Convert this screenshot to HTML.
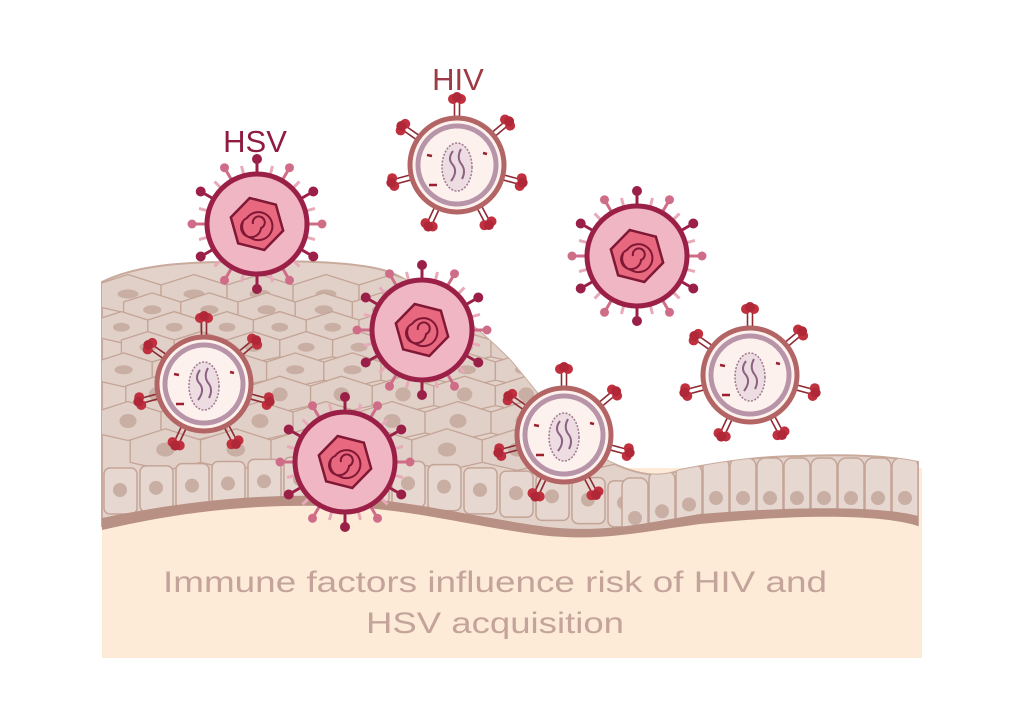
<!DOCTYPE html>
<html><head><meta charset="utf-8"><style>
html,body{margin:0;padding:0;background:#fff;width:1024px;height:717px;overflow:hidden}
svg{display:block}
</style></head><body>
<svg id="s" width="1024" height="717" viewBox="0 0 1024 717" xmlns="http://www.w3.org/2000/svg">
<defs>
<clipPath id="tis"><path d="M102,282 C130,268 170,262 230,262 C300,260 360,262 390,272 C430,290 470,320 510,360 C540,395 570,440 610,462 C640,476 660,478 680,470 C720,462 760,456 800,456 C850,454 890,456 918,462 L918,525 C880,512 800,512 700,522 C640,530 600,540 540,532 C470,522 410,505 330,502 C250,500 180,510 102,526 Z"/></clipPath>
</defs>
<rect x="102" y="468" width="820" height="190" fill="#fdebd8"/>
<path d="M102,282 C130,268 170,262 230,262 C300,260 360,262 390,272 C430,290 470,320 510,360 C540,395 570,440 610,462 C640,476 660,478 680,470 C720,462 760,456 800,456 C850,454 890,456 918,462 L918,525 C880,512 800,512 700,522 C640,530 600,540 540,532 C470,522 410,505 330,502 C250,500 180,510 102,526 Z" fill="#e2d2ca" stroke="#c9aa9c" stroke-width="2"/>
<g id="cells" clip-path="url(#tis)"></g>
<path d="M102,518 C180,502 250,494 330,496 C410,500 470,516 540,526 C600,534 640,524 700,514 C800,506 880,506 918,516 L918,526 C880,514 800,514 700,524 C640,532 600,542 540,535 C470,526 410,508 330,506 C250,504 180,512 102,530 Z" fill="#b89084"/>
<g id="vir"></g>
<text x="255" y="152" font-family="Liberation Sans, sans-serif" font-size="31" fill="#8f1c40" text-anchor="middle">HSV</text>
<text x="458" y="90" font-family="Liberation Sans, sans-serif" font-size="31" fill="#9e3a44" text-anchor="middle">HIV</text>
<text x="495" y="592" font-family="Liberation Sans, sans-serif" font-size="30" fill="#c4a49a" text-anchor="middle" textLength="664" lengthAdjust="spacingAndGlyphs">Immune factors influence risk of HIV and</text>
<text x="495" y="633" font-family="Liberation Sans, sans-serif" font-size="30" fill="#c4a49a" text-anchor="middle" textLength="258" lengthAdjust="spacingAndGlyphs">HSV acquisition</text>
</svg>
<script>
var NS="http://www.w3.org/2000/svg";
function el(p,t,a){var e=document.createElementNS(NS,t);for(var k in a)e.setAttribute(k,a[k]);p.appendChild(e);return e;}
var C=document.getElementById('cells'),V=document.getElementById('vir');
var rows=[[285,30],[302,26],[320,24],[340,24],[362,26],[386,28],[412,30],[440,32]];
rows.forEach(function(r,i){var y=r[0],w=r[1]*2.2;for(var x=95+(i%2)*w/2;x<600;x+=w){
 el(C,'path',{d:'M'+x+','+(y)+' L'+(x+w*0.5)+','+(y-r[1]*0.35)+' L'+(x+w)+','+y+' L'+(x+w)+','+(y+r[1]*0.7)+' L'+(x+w*0.5)+','+(y+r[1]*0.95)+' L'+x+','+(y+r[1]*0.7)+'Z',fill:'#e0d0c8',stroke:'#c4a496','stroke-width':1.3});
 el(C,'ellipse',{cx:x+w*0.5,cy:y+r[1]*0.3,rx:Math.min(12,r[1]*0.35)+ (i>4?-2:0),ry:i>4?7:4.5,fill:'#c9aea3'});}});
for(var x=102;x<640;x+=36){var yb=x<330?510-(x-102)*0.06:498+(x-330)*0.09;
 el(C,'rect',{x:x+2,y:yb-42,width:33,height:46,rx:6,fill:'#e6d8d0',stroke:'#c4a496','stroke-width':1.5});
 el(C,'circle',{cx:x+18,cy:yb-20,r:7,fill:'#c9aea3'});}
for(var x=622;x<930;x+=27){var t=x<690?478-(x-622)*0.25:458;var b=x<700?530:526-(x-700)*0.03;
 el(C,'rect',{x:x,y:t,width:26,height:b-t+10,rx:8,fill:'#e6d8d0',stroke:'#c4a496','stroke-width':1.5});
 el(C,'circle',{cx:x+13,cy:t+40,r:7,fill:'#c9aea3'});}
function hsv(cx,cy){var g=el(V,'g',{});
 for(var i=0;i<24;i++){var a=i*Math.PI/12,c=Math.cos(a),s=Math.sin(a);
  if(i%2==0){var big=(i%4==0);el(g,'line',{x1:cx+c*50,y1:cy+s*50,x2:cx+c*64,y2:cy+s*64,stroke:big?'#cf6d88':'#9b2048','stroke-width':3});
   el(g,'circle',{cx:cx+c*65,cy:cy+s*65,r:big?4.5:5,fill:big?'#cf6d88':'#9b2048'});}
  else el(g,'line',{x1:cx+c*50,y1:cy+s*50,x2:cx+c*60,y2:cy+s*60,stroke:'#e8a9b8','stroke-width':3});}
 el(g,'circle',{cx:cx,cy:cy,r:50,fill:'#f0b6c3',stroke:'#9b2048','stroke-width':5});
 var p='';for(var i=0;i<6;i++){var a=i*Math.PI/3+0.25;p+=(cx+Math.cos(a)*27)+','+(cy+Math.sin(a)*27)+' ';}
 el(g,'polygon',{points:p,fill:'#e8687f',stroke:'#7e1835','stroke-width':2.5});
 el(g,'path',{d:'M'+(cx-4)+','+cy+' a6,6 0 1,1 8,4 a10,10 0 1,1 -14,-10 a14,14 0 1,1 4,20 a12,12 0 0,1 -8,-16',fill:'none',stroke:'#7e1835','stroke-width':2});}
function hiv(cx,cy){var g=el(V,'g',{});
 [-90,-40,-145,165,15,115,62].forEach(function(d){var a=d*Math.PI/180,c=Math.cos(a),s=Math.sin(a),nx=-s,ny=c;
  for(var k=-1;k<=1;k+=2)el(g,'line',{x1:cx+c*46+nx*2.5*k,y1:cy+s*46+ny*2.5*k,x2:cx+c*62+nx*2.5*k,y2:cy+s*62+ny*2.5*k,stroke:'#8e2a34','stroke-width':1.6});
  var hx=cx+c*66,hy=cy+s*66;el(g,'circle',{cx:hx+nx*4,cy:hy+ny*4,r:5,fill:'#c0303e'});el(g,'circle',{cx:hx-nx*4,cy:hy-ny*4,r:5,fill:'#c0303e'});el(g,'circle',{cx:hx+c*2,cy:hy+s*2,r:5,fill:'#b02838'});});
 el(g,'circle',{cx:cx,cy:cy,r:47,fill:'#fdf1ed',stroke:'#b36464','stroke-width':5});
 el(g,'circle',{cx:cx,cy:cy,r:39,fill:'none',stroke:'#b894a8','stroke-width':5,'stroke-dasharray':'4 1.5','stroke-linecap':'round'});
 el(g,'ellipse',{cx:cx,cy:cy+2,rx:15,ry:24,fill:'#eddde2',stroke:'#a07890','stroke-width':1.5,'stroke-dasharray':'2 1.5'});
 el(g,'path',{d:'M'+(cx-4)+','+(cy-14)+' q-6,8 0,14 q5,7 -2,16 M'+(cx+4)+','+(cy-16)+' q-5,9 1,16 q4,6 0,14',fill:'none',stroke:'#8c6080','stroke-width':2});
 el(g,'path',{d:'M'+(cx-30)+','+(cy-10)+' l5,1 M'+(cx+26)+','+(cy-12)+' l4,1 M'+(cx-28)+','+(cy+20)+' l8,0',stroke:'#9a2030','stroke-width':2.5});}
hsv(257,224);hsv(422,330);hsv(637,256);hsv(345,462);
hiv(457,165);hiv(204,384);hiv(564,435);hiv(750,375);
</script>
</body></html>
